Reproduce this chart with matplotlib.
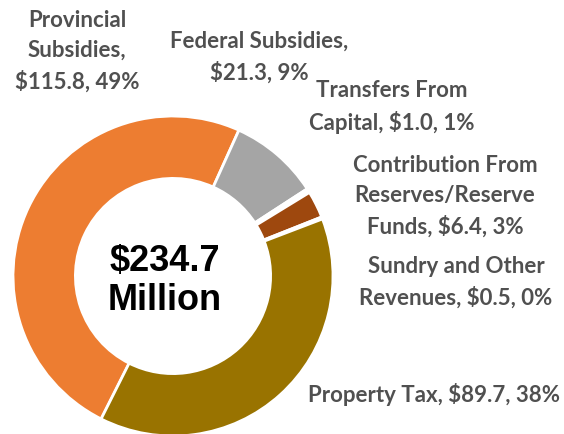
import matplotlib
matplotlib.use("Agg")
import matplotlib.pyplot as plt

# revenue sources ($ millions), in drawing order (clockwise)
sources = [
    "Provincial\nSubsidies,",
    "Federal Subsidies,",
    "Transfers From\nCapital,",
    "Contribution From\nReserves/Reserve\nFunds,",
    "Sundry and Other\nRevenues,",
    "Property Tax,",
]
values = [115.8, 21.3, 1.0, 6.4, 0.5, 89.7]
pct_labels = ["49%", "9%", "1%", "3%", "0%", "38%"]
# break between name and amount: newline or same line
breaks = ["\n", "\n", " ", " ", " ", " "]
total_label = "$234.7\nMillion"

colors = ["#ED7D31", "#A5A5A5", "#FFFFFF", "#9E480E", "#FFFFFF", "#997300"]

# label centres in pixels (x, y from top)
label_px = [(77, 51), (259, 57), (392, 107), (445, 196), (456, 282), (434, 395)]

W, H = 564, 435


def fx(x):
    return x / W


def fy(y):
    return 1 - y / H


def main():
    fig = plt.figure(figsize=(W / 100, H / 100), dpi=100)

    cx, cy, r = 173, 277, 160
    ax = fig.add_axes([fx(cx - r), fy(cy + r), 2 * r / W, 2 * r / H])
    ax.pie(values, colors=colors, startangle=243.3, counterclock=False,
           radius=1.0, wedgeprops=dict(width=0.39, edgecolor="white", linewidth=2))
    ax.set_xlim(-1, 1)
    ax.set_ylim(-1, 1)
    ax.set_aspect("equal")
    ax.axis("off")

    fig.text(fx(165), fy(281), total_label, ha="center", va="center",
             fontsize=26, fontweight="bold", family="Liberation Sans",
             linespacing=1.15, color="black")

    for name, val, pct, br, (x, y) in zip(sources, values, pct_labels, breaks, label_px):
        text = f"{name}{br}${val:.1f}, {pct}"
        fig.text(fx(x), fy(y), text, ha="center", va="center", multialignment="center",
                 fontsize=16, fontweight="bold", family="Lato", color="#505050",
                 linespacing=1.52)

    fig.savefig("out.png", dpi=100)
    plt.close(fig)


if __name__ == "__main__":
    main()
